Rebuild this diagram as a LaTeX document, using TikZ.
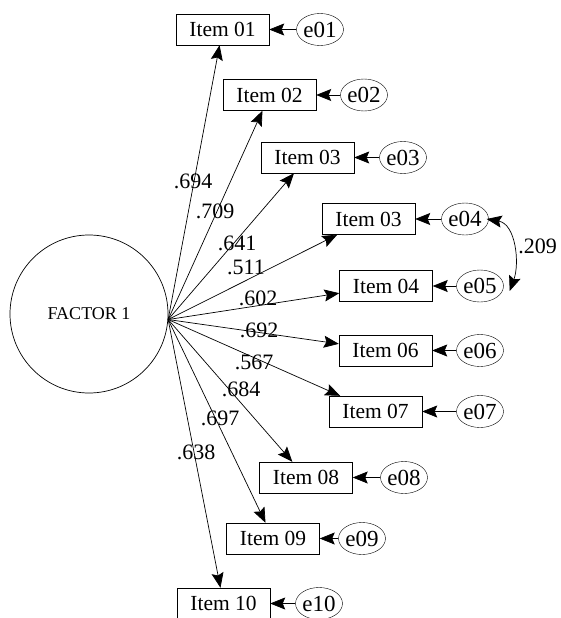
\documentclass[tikz,border=0pt]{standalone}
\usepackage{fontspec}
\setmainfont{Liberation Serif}
\usetikzlibrary{arrows.meta, shapes.geometric}

\begin{document}
\begin{tikzpicture}[x=1pt, y=-1pt,
    item/.style={draw, rectangle, minimum width=93pt, minimum height=31pt, inner sep=0pt, font=\fontsize{21.5}{24}\selectfont},
    err/.style={draw, ellipse, minimum width=38pt, minimum height=32pt, inner sep=0pt, font=\fontsize{23}{24}\selectfont},
    load/.style={inner sep=0pt, font=\fontsize{22}{24}\selectfont},
    path/.style={-{Stealth[length=15pt, width=12pt, inset=2.5pt]}, line width=0.7pt}]
        \useasboundingbox (0,0) rectangle (561,618);

        % Factor
        \node[draw, circle, minimum size=158pt, line width=0.7pt, font=\fontsize{18}{21}\selectfont] (f1) at (89,314) {FACTOR 1};
        \coordinate (src) at (f1.-4);

        % Items
        \node[item] (i01) at (222.5,29.5)  {Item 01};
        \node[item] (i02) at (269.5,95)    {Item 02};
        \node[item] (i03) at (307.5,157.5) {Item 03};
        \node[item] (i04) at (368.5,219)   {Item 03};
        \node[item] (i05) at (386,286)     {Item 04};
        \node[item] (i06) at (385.5,350.5) {Item 06};
        \node[item] (i07) at (375.5,411.5) {Item 07};
        \node[item] (i08) at (306,477.5)   {Item 08};
        \node[item] (i09) at (273,538.5)   {Item 09};
        \node[item] (i10) at (223.5,603.5) {Item 10};

        % Error terms
        \node[err] (e01) at (320,29.5)  {e01};
        \node[err] (e02) at (364,95)    {e02};
        \node[err] (e03) at (403,157.5) {e03};
        \node[err] (e04) at (465,219)   {e04};
        \node[err] (e05) at (480,286)   {e05};
        \node[err] (e06) at (480,350.5) {e06};
        \node[err] (e07) at (480,411.5) {e07};
        \node[err] (e08) at (404,477.5) {e08};
        \node[err] (e09) at (362,538.5) {e09};
        \node[err] (e10) at (319,603.5) {e10};

        % Loadings
        \draw[path] (src) -- (i01);
        \draw[path] (src) -- (i02);
        \draw[path] (src) -- (i03);
        \draw[path] (src) -- (i04);
        \draw[path] (src) -- (i05);
        \draw[path] (src) -- (i06);
        \draw[path] (src) -- (i07);
        \draw[path] (src) -- (i08);
        \draw[path] (src) -- (i09);
        \draw[path] (src) -- (i10);

        % Error paths
        \draw[path] (e01) -- (i01);
        \draw[path] (e02) -- (i02);
        \draw[path] (e03) -- (i03);
        \draw[path] (e04) -- (i04);
        \draw[path] (e05) -- (i05);
        \draw[path] (e06) -- (i06);
        \draw[path] (e07) -- (i07);
        \draw[path] (e08) -- (i08);
        \draw[path] (e09) -- (i09);
        \draw[path] (e10) -- (i10);

        % Covariance
        \draw[{Stealth[length=15pt, width=12pt, inset=2.5pt]}-{Stealth[length=15pt, width=12pt, inset=2.5pt]}, line width=0.7pt]
            ([xshift=-2pt]e04.east) to[out=-10, in=70] node[load, right=5pt] (c45) {.209} ([xshift=6pt, yshift=-5pt]e05.east);

        % Loading labels
        \node[load] (l01) at (193,181) {.694};
        \node[load] (l02) at (215,211) {.709};
        \node[load] (l03) at (237,243) {.641};
        \node[load] (l04) at (246,267) {.511};
        \node[load] (l05) at (258,298) {.602};
        \node[load] (l06) at (259,330) {.692};
        \node[load] (l07) at (254,362) {.567};
        \node[load] (l08) at (241,389) {.684};
        \node[load] (l09) at (220,418) {.697};
        \node[load] (l10) at (196,452) {.638};
\end{tikzpicture}
\end{document}
